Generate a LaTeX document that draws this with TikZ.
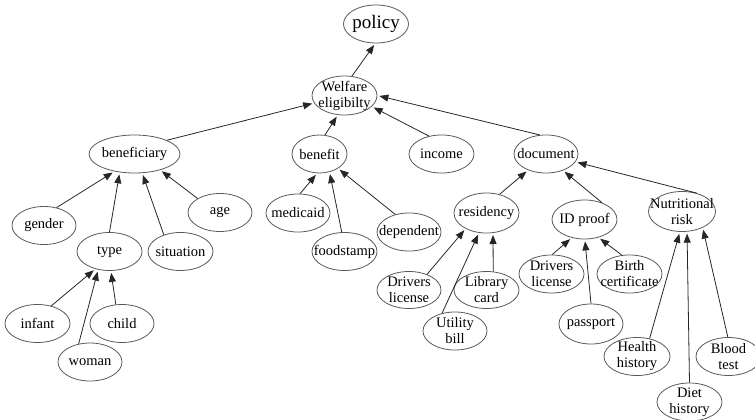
\documentclass[tikz,border=0pt]{standalone}
\usepackage{fontspec}
\setmainfont{Liberation Serif}
\usepackage{tikz}
\usetikzlibrary{arrows.meta,shapes.geometric}

\begin{document}
\begin{tikzpicture}[x=1pt, y=-1pt]
  \tikzstyle{ent} = [ellipse, draw=black!65, line width=0.8pt, inner xsep=-40pt, inner ysep=-4pt,
                     minimum width=65pt, minimum height=38pt, align=center, text=black,
                     font=\fontsize{14.5}{16}\selectfont]
  \tikzstyle{arrow} = [-{Triangle[length=9pt,width=7pt]}, line width=0.8pt, draw=black!85, shorten >=2pt]
  \useasboundingbox (0,0) rectangle (755,420);
  % top levels
  \node[ent, font=\fontsize{19}{21}\selectfont] (policy) at (376,24) {policy};
  \node[ent, minimum height=39pt] (welfare) at (344.5,95.5) {Welfare\\eligibilty};
  \node[ent, minimum width=91pt] (benef) at (134.5,154) {beneficiary};
  \node[ent, minimum width=55pt] (benefit) at (319.5,154) {benefit};
  \node[ent] (income) at (441.5,154) {income};
  \node[ent, minimum width=64pt] (document) at (546,154) {document};
  % beneficiary
  \node[ent, minimum width=64pt] (gender) at (44,225.5) {gender};
  \node[ent, minimum width=64pt] (age) at (220,212.5) {age};
  \node[ent] (type) at (109.5,251.5) {type};
  \node[ent] (situation) at (180.5,251.5) {situation};
  \node[ent] (infant) at (37.5,323.5) {infant};
  \node[ent, minimum width=64pt] (child) at (122,323.5) {child};
  \node[ent, minimum width=64pt] (woman) at (90,362) {woman};
  % benefit
  \node[ent, minimum width=64pt] (medicaid) at (298,213) {medicaid};
  \node[ent] (foodstamp) at (344.5,251.5) {foodstamp};
  \node[ent, minimum width=64pt] (dependent) at (409,232) {dependent};
  % document
  \node[ent, minimum height=40pt] (residency) at (486.5,213) {residency};
  \node[ent, minimum height=39pt] (idproof) at (584.5,219.5) {ID proof};
  \node[ent, minimum width=67pt, minimum height=40pt] (nutrisk) at (682,211.5) {Nutritional\\risk};
  \node[ent, minimum width=64pt, minimum height=37pt] (drvres) at (409,290) {Drivers\\license};
  \node[ent, minimum height=37pt] (library) at (486.5,290) {Library\\card};
  \node[ent, minimum width=64pt] (utility) at (455,331) {Utility\\bill};
  \node[ent] (drvid) at (551.5,274) {Drivers\\license};
  \node[ent] (birth) at (629.5,274) {Birth\\certificate};
  \node[ent, minimum width=64pt, minimum height=40pt] (passport) at (591,324) {passport};
  \node[ent, minimum width=66pt] (health) at (637,356.5) {Health\\history};
  \node[ent] (blood) at (728.5,356.5) {Blood\\test};
  \node[ent] (diet) at (689.5,402) {Diet\\history};
  % edges
  \draw[arrow] (welfare.69) -- (policy.-92);
  \draw[arrow] (benef.23) -- (welfare.194);
  \draw[arrow] (benefit.74) -- (welfare.-109);
  \draw[arrow] (income.125) -- (welfare.-22);
  \draw[arrow] (document.108) -- (welfare.0);
  \draw[arrow] (gender.55) -- (benef.-139);
  \draw[arrow] (type.90) -- (benef.-129);
  \draw[arrow] (situation.135) -- (benef.-68);
  \draw[arrow] (age.148) -- (benef.-32);
  \draw[arrow] (infant.52) -- (type.-129);
  \draw[arrow] (woman.122) -- (type.-122);
  \draw[arrow] (child.108) -- (type.-86);
  \draw[arrow] (medicaid.84) -- (benefit.-97);
  \draw[arrow] (foodstamp.98) -- (benefit.-61);
  \draw[arrow] (dependent.128) -- (benefit.-38);
  \draw[arrow] (residency.55) -- (document.-138);
  \draw[arrow] (idproof.44) -- (document.-44);
  \draw[arrow] (nutrisk.51) -- (document.-15);
  \draw[arrow] (drvres.41) -- (residency.-143);
  \draw[arrow] (utility.126) -- (residency.-111);
  \draw[arrow] (library.70) -- (residency.-72);
  \draw[arrow] (drvid.88) -- (idproof.-125);
  \draw[arrow] (passport.90) -- (idproof.-89);
  \draw[arrow] (birth.112) -- (idproof.-52);
  \draw[arrow] (health.55) -- (nutrisk.-96);
  \draw[arrow] (diet.90) -- (nutrisk.-76);
  \draw[arrow] (blood.92) -- (nutrisk.-38);
\end{tikzpicture}
\end{document}
